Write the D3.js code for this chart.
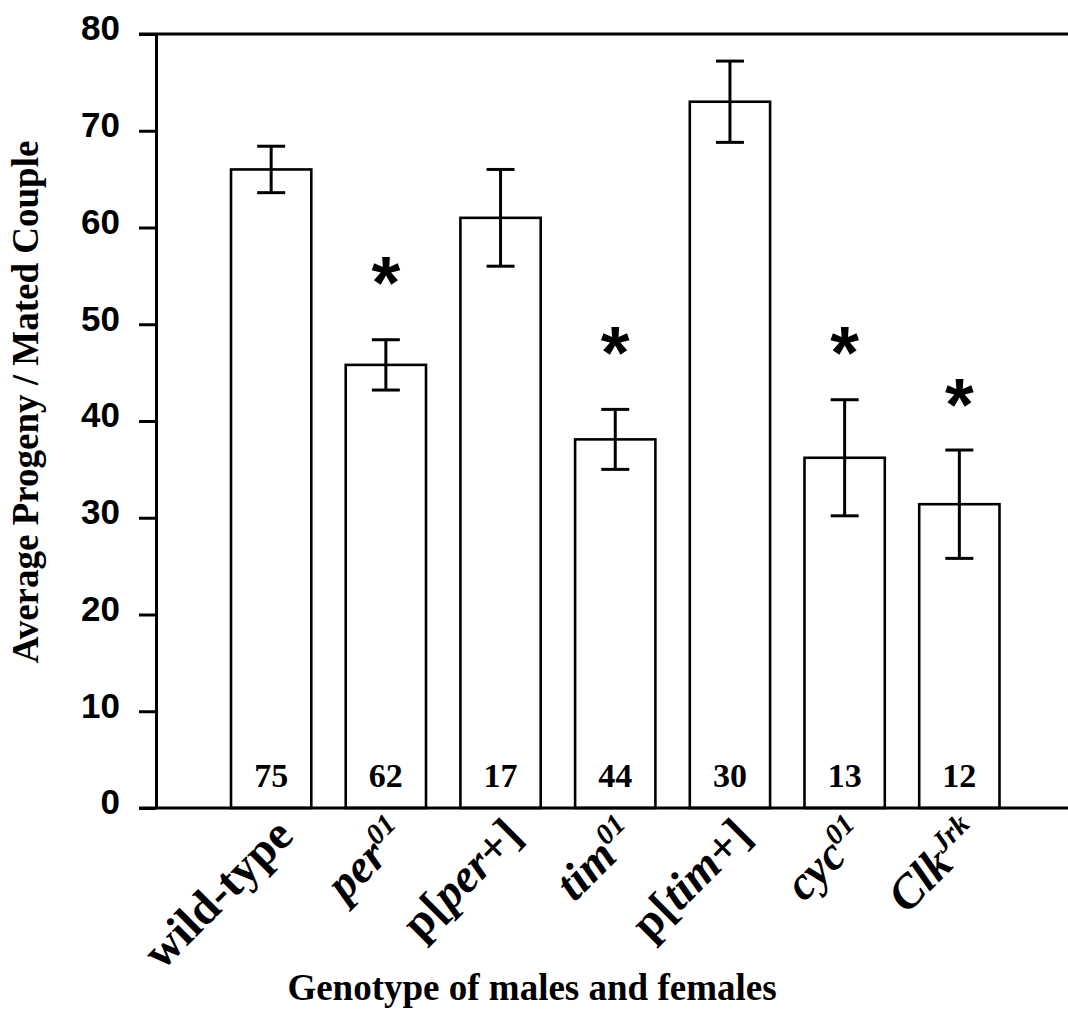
<!DOCTYPE html>
<html>
<head>
<meta charset="utf-8">
<script src="https://cdn.jsdelivr.net/npm/d3@7"></script>
<style>
  html, body { margin: 0; padding: 0; background: #fff; }
  svg { display: block; }
</style>
</head>
<body>
<svg id="chart" width="1068" height="1026"></svg>
<script>
// Genotypes tested (male and female of the same genotype)
const genotypes = ["wild-type", "per01", "p[per+]", "tim01", "p[tim+]", "cyc01", "ClkJrk"];
// Mean progeny per mated couple and standard error
const meanProgeny = [66, 45.8, 61, 38.1, 73, 36.2, 31.4];
const stdError = [2.4, 2.6, 5.0, 3.1, 4.2, 6.0, 5.6];
// Number of couples scored per genotype
const sampleSize = [75, 62, 17, 44, 30, 13, 12];
// Height at which a significance star is placed (null = not significant)
const starLevel = [null, 55.9, null, 48.6, null, 48.6, 43.3];
// Y axis ticks
const yTicks = [0, 10, 20, 30, 40, 50, 60, 70, 80];
// Rich-text pieces of each genotype label (italic gene names, superscript alleles)
const labelParts = [
  [{ t: "wild-type" }],
  [{ t: "per", it: true }, { t: "01", it: true, sup: true }],
  [{ t: "p[" }, { t: "per", it: true }, { t: "+]" }],
  [{ t: "tim", it: true }, { t: "01", it: true, sup: true }],
  [{ t: "p[" }, { t: "tim", it: true }, { t: "+]" }],
  [{ t: "cyc", it: true }, { t: "01", it: true, sup: true }],
  [{ t: "Clk", it: true }, { t: "Jrk", it: true, sup: true }]
];

const svg = d3.select("#chart");
const serif = "'Liberation Serif', 'Times New Roman', serif";
const sans = "'Liberation Sans', Arial, sans-serif";

const axisX = 156, plotTop = 34, plotBottom = 808, lineLeft = 139, lineRight = 1068;

const x = d3.scaleBand()
  .domain(genotypes)
  .range([axisX, 1074.5])
  .paddingInner(0.3)
  .paddingOuter(0.654);

const y = d3.scaleLinear().domain([0, 80]).range([plotBottom, plotTop]);

const rows = genotypes.map((g, i) => ({
  g, mean: meanProgeny[i], se: stdError[i], n: sampleSize[i], star: starLevel[i], parts: labelParts[i]
}));

// Bars
svg.append("g").selectAll("rect")
  .data(rows)
  .join("rect")
  .attr("x", d => x(d.g))
  .attr("y", d => y(d.mean))
  .attr("width", x.bandwidth())
  .attr("height", d => y(0) - y(d.mean))
  .attr("fill", "#fff")
  .attr("stroke", "#000")
  .attr("stroke-width", 2.6);

// Error bars
const capHalf = 14;
const eb = svg.append("g").attr("stroke", "#000").attr("stroke-width", 3).selectAll("g")
  .data(rows).join("g");
eb.append("line")
  .attr("x1", d => x(d.g) + x.bandwidth() / 2).attr("x2", d => x(d.g) + x.bandwidth() / 2)
  .attr("y1", d => y(d.mean + d.se)).attr("y2", d => y(d.mean - d.se));
eb.append("line")
  .attr("x1", d => x(d.g) + x.bandwidth() / 2 - capHalf).attr("x2", d => x(d.g) + x.bandwidth() / 2 + capHalf)
  .attr("y1", d => y(d.mean + d.se)).attr("y2", d => y(d.mean + d.se));
eb.append("line")
  .attr("x1", d => x(d.g) + x.bandwidth() / 2 - capHalf).attr("x2", d => x(d.g) + x.bandwidth() / 2 + capHalf)
  .attr("y1", d => y(d.mean - d.se)).attr("y2", d => y(d.mean - d.se));

// Sample sizes inside the bars
svg.append("g").selectAll("text")
  .data(rows)
  .join("text")
  .attr("x", d => x(d.g) + x.bandwidth() / 2)
  .attr("y", 787)
  .attr("text-anchor", "middle")
  .attr("font-family", serif)
  .attr("font-weight", "bold")
  .attr("font-size", 34)
  .text(d => d.n);

// Significance stars
svg.append("g").selectAll("text")
  .data(rows.filter(d => d.star !== null))
  .join("text")
  .attr("x", d => x(d.g) + x.bandwidth() / 2)
  .attr("y", d => y(d.star))
  .attr("dy", "0.55em")
  .attr("text-anchor", "middle")
  .attr("font-family", sans)
  .attr("font-weight", "bold")
  .attr("font-size", 74)
  .text("*");

// Frame lines: top at 80 and baseline at 0
svg.append("g").attr("stroke", "#000").attr("stroke-width", 3)
  .selectAll("line").data([80, 0]).join("line")
  .attr("x1", lineLeft).attr("x2", lineRight)
  .attr("y1", d => y(d)).attr("y2", d => y(d));

// Y axis
const yAxis = svg.append("g")
  .attr("transform", `translate(${axisX},0)`)
  .call(d3.axisLeft(y).tickValues(yTicks).tickSize(axisX - lineLeft).tickSizeOuter(0).tickPadding(19));
yAxis.select(".domain").attr("stroke-width", 3);
yAxis.selectAll(".tick line").attr("stroke-width", 3);
yAxis.selectAll(".tick text")
  .attr("font-family", sans)
  .attr("font-weight", "bold")
  .attr("font-size", 35)
  .attr("dy", "0.17em")
  .attr("fill", "#000");

// Genotype labels, rotated
const lab = svg.append("g").selectAll("text")
  .data(rows)
  .join("text")
  .attr("transform", d => `translate(${x(d.g) + x.bandwidth() / 2 + 24},838) rotate(-45)`)
  .attr("text-anchor", "end")
  .attr("font-family", serif)
  .attr("font-weight", "bold")
  .attr("font-size", 47);
lab.each(function (d) {
  const t = d3.select(this);
  d.parts.forEach(p => {
    const s = t.append("tspan").text(p.t);
    if (p.it) s.attr("font-style", "italic");
    if (p.sup) s.attr("font-size", 29).attr("dy", "-0.6em");
  });
});

// Axis titles
svg.append("text")
  .attr("transform", "translate(38,402) rotate(-90)")
  .attr("text-anchor", "middle")
  .attr("font-family", serif)
  .attr("font-weight", "bold")
  .attr("font-size", 37)
  .text("Average Progeny / Mated Couple");

svg.append("text")
  .attr("x", 532)
  .attr("y", 1000)
  .attr("text-anchor", "middle")
  .attr("font-family", serif)
  .attr("font-weight", "bold")
  .attr("font-size", 37)
  .text("Genotype of males and females");
</script>
</body>
</html>
